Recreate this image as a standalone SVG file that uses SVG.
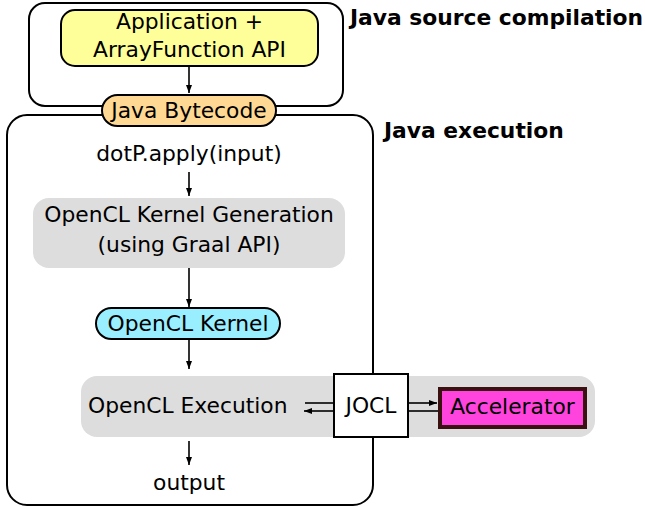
<svg xmlns="http://www.w3.org/2000/svg" width="645" height="507" viewBox="0 0 645 507">
<style>
text{font-family:"DejaVu Sans",sans-serif;font-size:21.8px;fill:#000}
.c{text-anchor:middle}
.b{font-weight:bold}
.frame{fill:none;stroke:#000;stroke-width:2}
.edge{stroke:#000;stroke-width:1.6;fill:none}
</style>
<defs>
<marker id="ah" viewBox="0 0 8 6" refX="8" refY="3" markerWidth="8" markerHeight="6" markerUnits="userSpaceOnUse" orient="auto">
<path d="M0,0 L8,3 L0,6 Z" fill="#000"/>
</marker>
</defs>
<g id="frame-compile">
<rect class="frame" x="29" y="3" width="314" height="103" rx="16"/>
<text class="b" x="350" y="25">Java source compilation</text>
</g>
<g id="frame-exec">
<rect class="frame" x="7" y="115" width="366" height="390" rx="20"/>
<text class="b" x="384" y="138">Java execution</text>
</g>
<g id="kernelgen">
<rect x="33" y="198" width="312" height="70" rx="16" fill="#dddddd"/>
<text class="c" x="189" y="222">OpenCL Kernel Generation</text>
<text class="c" x="189" y="252">(using Graal API)</text>
</g>
<g id="exec">
<rect x="81" y="376" width="514" height="61" rx="16" fill="#dddddd"/>
<text x="88" y="413">OpenCL Execution</text>
</g>
<g id="connectors">
<line class="edge" x1="189" y1="66" x2="189" y2="93" marker-end="url(#ah)"/>
<line class="edge" x1="189" y1="172" x2="189" y2="196" marker-end="url(#ah)"/>
<line class="edge" x1="189" y1="268" x2="189" y2="307" marker-end="url(#ah)"/>
<line class="edge" x1="189" y1="339" x2="189" y2="369" marker-end="url(#ah)"/>
<line class="edge" x1="189" y1="441" x2="189" y2="465" marker-end="url(#ah)"/>
<line class="edge" x1="334" y1="403" x2="305" y2="403"/>
<line class="edge" x1="334" y1="411" x2="304" y2="411" marker-end="url(#ah)"/>
<line class="edge" x1="408" y1="403" x2="437" y2="403" marker-end="url(#ah)"/>
<line class="edge" x1="408" y1="411" x2="439" y2="411"/>
</g>
<g id="application">
<rect x="61" y="10" width="257" height="56" rx="14" fill="#ffff99" stroke="#000" stroke-width="2"/>
<text class="c" x="189.5" y="29">Application +</text>
<text class="c" x="189.5" y="57">ArrayFunction API</text>
</g>
<g id="bytecode">
<rect x="102" y="95" width="174" height="31" rx="15.5" fill="#ffd993" stroke="#000" stroke-width="2"/>
<text class="c" x="189" y="118">Java Bytecode</text>
</g>
<g id="dotp">
<text class="c" x="189" y="161">dotP.apply(input)</text>
</g>
<g id="kernel">
<rect x="96" y="308" width="184" height="31" rx="15.5" fill="#99eeff" stroke="#000" stroke-width="2"/>
<text class="c" x="188" y="331">OpenCL Kernel</text>
</g>
<g id="jocl">
<rect x="334" y="374" width="74" height="63" fill="#fff" stroke="#000" stroke-width="2"/>
<text class="c" x="371" y="413">JOCL</text>
</g>
<g id="accelerator">
<rect x="440" y="389" width="145" height="38" fill="#ff44dd" stroke="#3a1010" stroke-width="4"/>
<text class="c" x="512.5" y="414">Accelerator</text>
</g>
<g id="output">
<text class="c" x="189" y="490">output</text>
</g>
</svg>
